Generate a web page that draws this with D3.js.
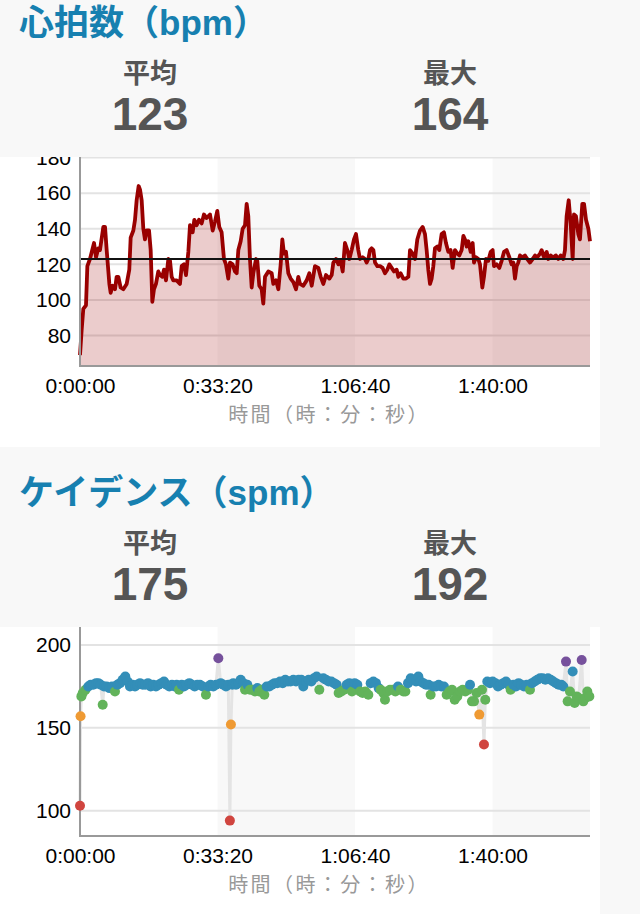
<!DOCTYPE html>
<html>
<head>
<meta charset="utf-8">
<script src="https://cdn.jsdelivr.net/npm/d3@7"></script>
<style>
  html, body { margin: 0; padding: 0; background: #f8f8f8; }
  svg { display: block; }
  text { font-family: "Liberation Sans", "Noto Sans CJK JP", sans-serif; }
</style>
</head>
<body>
<script>
// ---------------- DATA ----------------
const hrTitle = "心拍数（bpm）";
const cadTitle = "ケイデンス（spm）";
const statLabels = ["平均", "最大"];
const hrStats = [123, 164];
const cadStats = [175, 192];
const xAxisTitle = "時間（時：分：秒）";
const totalSeconds = 7418;
const xTickValues = [0, 2000, 4000, 6000];
const hrTicks = [80, 100, 120, 140, 160, 180];
const cadTicks = [100, 150, 200];
const hrDomain = [62.9, 180.3];
const cadDomain = [84.7, 210.9];
const hrAverage = 123;

const hrTime = [0,24,48,87,107,145,204,233,267,291,339,364,388,427,446,475,509,533,558,591,630,679,717,737,776,800,824,853,873,897,921,945,970,1004,1028,1052,1076,1105,1139,1164,1197,1222,1251,1285,1309,1333,1357,1406,1454,1479,1513,1542,1576,1600,1639,1663,1697,1731,1770,1803,1842,1891,1930,1963,1997,2026,2060,2094,2123,2157,2182,2220,2254,2279,2303,2337,2366,2400,2424,2448,2472,2497,2521,2560,2579,2608,2642,2666,2691,2739,2788,2812,2851,2885,2919,2943,2967,2996,3030,3064,3103,3142,3175,3200,3248,3297,3336,3370,3418,3467,3501,3539,3578,3627,3661,3685,3724,3758,3791,3821,3854,3888,3918,3951,3985,4014,4048,4073,4111,4145,4170,4194,4218,4242,4267,4291,4325,4364,4402,4436,4470,4499,4533,4567,4606,4630,4664,4703,4742,4776,4800,4839,4873,4906,4945,4984,5018,5042,5066,5091,5115,5139,5163,5197,5226,5260,5294,5323,5357,5391,5420,5454,5488,5517,5551,5576,5600,5624,5648,5682,5711,5731,5760,5794,5818,5852,5876,5905,5939,5973,6002,6022,6060,6099,6133,6167,6206,6245,6278,6303,6327,6351,6375,6400,6438,6472,6506,6545,6584,6618,6652,6691,6715,6749,6788,6812,6846,6884,6923,6957,6991,7030,7054,7078,7108,7137,7166,7185,7214,7248,7272,7306,7331,7360,7394,7418];
const hrBpm = [69,83,95,97,119,123,132,124,129,128,141,141,128,109,104,108,106,113,113,107,106,109,117,135,139,145,156,164,162,156,140,134,139,139,128,99,106,109,116,114,113,117,111,123,122,113,111,111,109,119,120,114,127,142,138,145,142,145,143,148,146,148,139,144,150,141,138,123,120,112,121,120,116,115,128,133,140,142,154,147,123,107,115,123,122,108,106,98,113,116,115,109,111,106,120,134,126,127,115,112,110,106,113,109,108,111,115,108,119,118,113,109,114,112,114,121,123,120,122,116,132,128,123,128,134,137,128,123,124,123,121,123,128,129,128,121,119,119,118,115,117,120,118,116,117,113,115,112,112,113,128,126,123,134,139,141,137,128,117,109,112,119,129,130,128,137,138,132,127,128,118,128,126,125,128,136,134,130,133,127,132,121,124,123,120,107,113,123,122,127,128,119,120,118,122,127,128,124,120,121,112,119,121,125,124,125,123,121,123,125,124,126,128,124,127,123,125,124,125,123,125,123,128,147,156,143,123,148,147,137,134,154,154,145,140,133];

const cadTime = [0,8,20,40,80,121,155,194,233,267,301,330,349,388,427,465,509,543,582,620,659,693,727,766,800,834,873,911,950,989,1028,1067,1105,1144,1183,1222,1260,1299,1338,1377,1406,1440,1479,1513,1551,1590,1629,1668,1706,1745,1784,1832,1866,1900,1939,1978,2012,2046,2085,2123,2157,2180,2195,2215,2230,2269,2303,2337,2376,2400,2434,2472,2506,2545,2579,2608,2642,2681,2715,2754,2792,2831,2870,2909,2948,2986,3025,3064,3103,3142,3180,3219,3248,3287,3326,3365,3403,3442,3481,3539,3578,3617,3656,3695,3733,3762,3801,3840,3879,3918,3956,3995,4034,4073,4111,4150,4194,4228,4267,4305,4344,4373,4412,4436,4470,4509,4548,4587,4625,4664,4703,4732,4771,4810,4848,4887,4921,4955,4994,5033,5071,5100,5139,5178,5217,5256,5294,5333,5372,5411,5450,5488,5527,5566,5605,5643,5673,5701,5731,5769,5808,5847,5876,5895,5924,5963,6002,6041,6080,6118,6157,6196,6235,6264,6303,6342,6380,6419,6458,6497,6545,6574,6613,6652,6691,6729,6768,6807,6846,6884,6923,6962,7001,7030,7069,7093,7127,7166,7195,7224,7253,7297,7321,7350,7379,7408];
const cadSpm = [103,157,169,171,173,175,176,176,177,177,176,164,175,175,174,175,172,176,177,179,181,178,175,176,175,176,177,176,176,177,175,176,175,176,177,178,176,175,176,175,176,173,176,175,176,177,176,175,176,176,175,170,175,176,175,176,192,177,176,175,176,94,152,176,177,176,177,179,177,173,176,173,173,172,174,172,173,170,175,175,176,177,177,178,177,179,178,178,179,178,179,179,175,178,179,178,180,181,173,180,179,178,178,177,176,171,172,173,176,177,172,177,176,172,171,172,170,177,178,177,174,173,171,167,172,173,173,172,175,173,172,172,177,180,179,178,181,178,177,176,176,170,175,175,176,175,175,170,172,173,167,169,172,173,172,173,176,166,166,171,158,173,140,167,178,177,178,177,175,176,177,178,176,173,176,175,177,176,175,176,173,177,178,179,180,180,179,180,179,178,177,176,176,175,190,166,172,184,165,169,168,191,166,168,172,169];

const zoneThresholds = [150, 164, 174, 185];
const zoneColors = ["#d0453f", "#ef9a33", "#62b35a", "#338eb8", "#76519c"];

// ---------------- LAYOUT ----------------
const W = 640, H = 914;
const svg = d3.select("body").append("svg").attr("width", W).attr("height", H);
svg.append("rect").attr("width", W).attr("height", H).attr("fill", "#f8f8f8");

const plotL = 80, plotR = 590, plotH = 209;
const x = d3.scaleLinear().domain([0, totalSeconds]).range([plotL, plotR]);

function fmtTime(s) {
  const h = Math.floor(s / 3600), m = Math.floor((s % 3600) / 60), sec = Math.round(s % 60);
  return h + ":" + String(m).padStart(2, "0") + ":" + String(sec).padStart(2, "0");
}

function header(top, title, stats) {
  svg.append("text").attr("x", 19).attr("y", top + 58).text(title)
    .attr("font-size", 35).attr("font-weight", "bold").attr("fill", "#1780b0");
  const cx = [150, 450];
  stats.forEach((v, i) => {
    svg.append("text").attr("x", cx[i]).attr("y", top + 106).attr("text-anchor", "middle")
      .attr("font-size", 27).attr("font-weight", "bold").attr("fill", "#555").text(statLabels[i]);
    svg.append("text").attr("x", cx[i]).attr("y", top + 152.5).attr("text-anchor", "middle")
      .attr("font-size", 46).attr("font-weight", "bold").attr("fill", "#555").text(v);
  });
}

function panel(id, top, yDomain, yTicks) {
  const g = svg.append("g").attr("transform", `translate(0,${top})`);
  g.append("clipPath").attr("id", id).append("rect").attr("x", 0).attr("y", 0).attr("width", 600).attr("height", 290);
  const c = g.append("g").attr("clip-path", `url(#${id})`);
  c.append("rect").attr("width", 600).attr("height", 290).attr("fill", "#fff");
  const y = d3.scaleLinear().domain(yDomain).range([plotH, 0]);
  // alternating bands
  const edges = xTickValues.concat([totalSeconds]);
  for (let i = 1; i < edges.length - 1; i += 2) {
    c.append("rect").attr("x", x(edges[i])).attr("y", 0)
      .attr("width", x(edges[i + 1]) - x(edges[i])).attr("height", plotH).attr("fill", "#f8f8f8");
  }
  // grid
  c.selectAll(".grid").data(yTicks).join("line")
    .attr("x1", plotL).attr("x2", plotR).attr("y1", d => y(d)).attr("y2", d => y(d))
    .attr("stroke", "#e3e3e3").attr("stroke-width", 2);
  // y axis labels
  const ya = c.append("g").attr("transform", `translate(${plotL},0)`)
    .call(d3.axisLeft(y).tickValues(yTicks).tickSize(0).tickPadding(9));
  ya.select(".domain").remove();
  ya.selectAll("text").attr("font-size", 21).attr("fill", "#000")
    .style("font-family", '"Liberation Sans", sans-serif');
  // x axis labels
  const xa = c.append("g").attr("transform", `translate(0,${plotH})`)
    .call(d3.axisBottom(x).tickValues(xTickValues).tickFormat(fmtTime).tickSize(0));
  xa.select(".domain").remove();
  xa.selectAll("text").attr("y", 27).attr("dy", 0).attr("font-size", 21).attr("fill", "#000")
    .style("font-family", '"Liberation Sans", sans-serif');
  c.append("text").attr("x", 329).attr("y", plotH + 56).attr("text-anchor", "middle")
    .attr("font-size", 20).attr("letter-spacing", 2.4).attr("fill", "#999")
    .style("font-family", '"Noto Sans CJK JP", sans-serif').text(xAxisTitle);
  return { c, y };
}

function axisLines(c) {
  c.append("line").attr("x1", plotL).attr("x2", plotL).attr("y1", 0).attr("y2", plotH + 1)
    .attr("stroke", "#999").attr("stroke-width", 2);
  c.append("line").attr("x1", plotL).attr("x2", plotR).attr("y1", plotH).attr("y2", plotH)
    .attr("stroke", "#999").attr("stroke-width", 2);
}

// ---------------- HEART RATE ----------------
header(-23, hrTitle, hrStats);
{
  const { c, y } = panel("clipHR", 157, hrDomain, hrTicks);
  const pts = hrTime.map((t, i) => [t, hrBpm[i]]);
  c.append("path").datum(pts)
    .attr("d", d3.area().x(d => x(d[0])).y0(plotH).y1(d => y(d[1])))
    .attr("fill", "rgba(153,0,0,0.2)");
  c.append("path").datum(pts)
    .attr("d", d3.line().x(d => x(d[0])).y(d => y(d[1])))
    .attr("fill", "none").attr("stroke", "#990000").attr("stroke-width", 3.8)
    .attr("stroke-linejoin", "round");
  c.append("line").attr("x1", plotL).attr("x2", plotR).attr("y1", y(hrAverage)).attr("y2", y(hrAverage))
    .attr("stroke", "#111").attr("stroke-width", 2);
  axisLines(c);
}

// ---------------- CADENCE ----------------
header(447, cadTitle, cadStats);
{
  const { c, y } = panel("clipCad", 627, cadDomain, cadTicks);
  const pts = cadTime.map((t, i) => [t, cadSpm[i]]);
  const zone = d3.scaleThreshold().domain(zoneThresholds).range(zoneColors);
  c.append("path").datum(pts)
    .attr("d", d3.line().x(d => x(d[0])).y(d => y(d[1])))
    .attr("fill", "none").attr("stroke", "#e4e4e4").attr("stroke-width", 3);
  axisLines(c);
  c.selectAll(".dot").data(pts).join("circle")
    .attr("cx", d => x(d[0])).attr("cy", d => y(d[1])).attr("r", 5)
    .attr("fill", d => zone(d[1]));
}
</script>
</body>
</html>
